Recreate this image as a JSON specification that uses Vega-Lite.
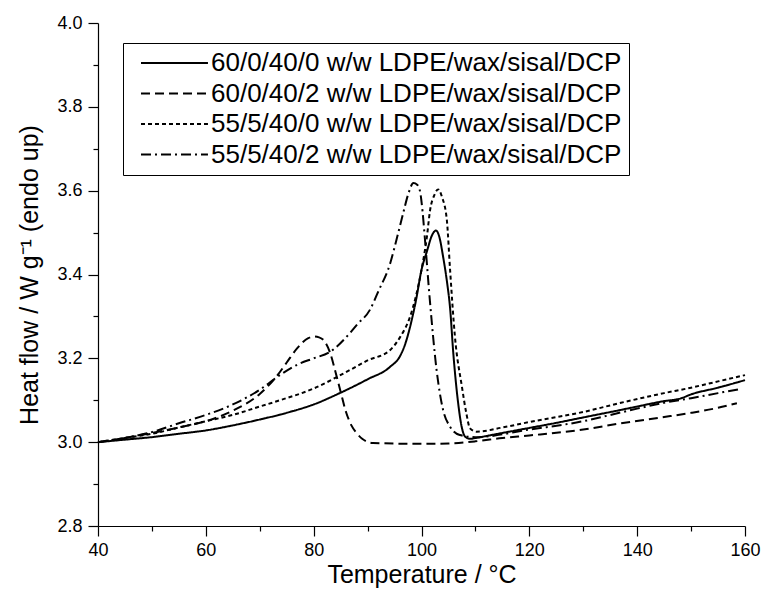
{
  "$schema": "https://vega.github.io/schema/vega-lite/v6.json",
  "width": 647,
  "height": 503,
  "autosize": {"type": "none"},
  "padding": {"left": 98, "top": 23, "right": 18, "bottom": 75},
  "background": "white",
  "config": {
    "view": {"stroke": null},
    "font": "Liberation Sans",
    "axis": {
      "domainColor": "black", "domainWidth": 1.2, "tickColor": "black", "tickWidth": 1.2,
      "labelColor": "black", "titleColor": "black", "labelFont": "Liberation Sans",
      "titleFont": "Liberation Sans", "titleFontWeight": "normal", "labelFontSize": 18,
      "titleFontSize": 25, "grid": false
    }
  },
  "data": {"values": [
    {"s":"A","t":40,"h":3.000},{"s":"A","t":45,"h":3.006},{"s":"A","t":50,"h":3.012},{"s":"A","t":55,"h":3.020},
    {"s":"A","t":60,"h":3.028},{"s":"A","t":65,"h":3.040},{"s":"A","t":70,"h":3.054},{"s":"A","t":75,"h":3.070},
    {"s":"A","t":80,"h":3.090},{"s":"A","t":85,"h":3.118},{"s":"A","t":90,"h":3.150},{"s":"A","t":94.2,"h":3.180},
    {"s":"A","t":96,"h":3.205},{"s":"A","t":97,"h":3.235},{"s":"A","t":97.9,"h":3.276},{"s":"A","t":99,"h":3.340},
    {"s":"A","t":100,"h":3.411},{"s":"A","t":101,"h":3.455},{"s":"A","t":102,"h":3.495},{"s":"A","t":102.7,"h":3.505},
    {"s":"A","t":103.3,"h":3.490},{"s":"A","t":104,"h":3.443},{"s":"A","t":104.7,"h":3.385},{"s":"A","t":105.3,"h":3.320},
    {"s":"A","t":105.9,"h":3.212},{"s":"A","t":106.8,"h":3.093},{"s":"A","t":107.4,"h":3.040},{"s":"A","t":108.1,"h":3.013},
    {"s":"A","t":109,"h":3.008},{"s":"A","t":110,"h":3.010},{"s":"A","t":115,"h":3.022},{"s":"A","t":120,"h":3.034},
    {"s":"A","t":125,"h":3.046},{"s":"A","t":130,"h":3.059},{"s":"A","t":137,"h":3.077},{"s":"A","t":140,"h":3.085},
    {"s":"A","t":145,"h":3.098},{"s":"A","t":148,"h":3.104},{"s":"A","t":150,"h":3.114},{"s":"A","t":155,"h":3.130},
    {"s":"A","t":160,"h":3.148},

    {"s":"B","t":40,"h":3.000},{"s":"B","t":45,"h":3.010},{"s":"B","t":50,"h":3.022},{"s":"B","t":55,"h":3.035},
    {"s":"B","t":60,"h":3.050},{"s":"B","t":65,"h":3.075},{"s":"B","t":70,"h":3.115},{"s":"B","t":73,"h":3.155},
    {"s":"B","t":75,"h":3.190},{"s":"B","t":77,"h":3.225},{"s":"B","t":79,"h":3.248},{"s":"B","t":80,"h":3.252},
    {"s":"B","t":81,"h":3.250},{"s":"B","t":81.8,"h":3.244},{"s":"B","t":83,"h":3.215},{"s":"B","t":84,"h":3.170},
    {"s":"B","t":85,"h":3.120},{"s":"B","t":86,"h":3.072},{"s":"B","t":87,"h":3.040},{"s":"B","t":88,"h":3.021},
    {"s":"B","t":89,"h":3.008},{"s":"B","t":91,"h":2.998},{"s":"B","t":100,"h":2.996},{"s":"B","t":105,"h":2.997},
    {"s":"B","t":110,"h":3.002},{"s":"B","t":115,"h":3.010},{"s":"B","t":120,"h":3.016},{"s":"B","t":130,"h":3.030},
    {"s":"B","t":137,"h":3.045},{"s":"B","t":145,"h":3.060},{"s":"B","t":150,"h":3.070},{"s":"B","t":155,"h":3.082},
    {"s":"B","t":158.5,"h":3.093},

    {"s":"C","t":40,"h":3.000},{"s":"C","t":45,"h":3.010},{"s":"C","t":50,"h":3.020},{"s":"C","t":55,"h":3.035},
    {"s":"C","t":60,"h":3.050},{"s":"C","t":65,"h":3.065},{"s":"C","t":70,"h":3.085},{"s":"C","t":73.75,"h":3.100},
    {"s":"C","t":80,"h":3.128},{"s":"C","t":86.7,"h":3.172},{"s":"C","t":90,"h":3.195},{"s":"C","t":94.2,"h":3.220},
    {"s":"C","t":96,"h":3.250},{"s":"C","t":97.9,"h":3.300},{"s":"C","t":99,"h":3.350},{"s":"C","t":100,"h":3.411},
    {"s":"C","t":101,"h":3.490},{"s":"C","t":101.6,"h":3.554},{"s":"C","t":102.4,"h":3.590},{"s":"C","t":103.1,"h":3.603},
    {"s":"C","t":103.8,"h":3.585},{"s":"C","t":104.7,"h":3.530},{"s":"C","t":105.3,"h":3.411},{"s":"C","t":106.2,"h":3.252},
    {"s":"C","t":107.5,"h":3.132},{"s":"C","t":108.3,"h":3.070},{"s":"C","t":109,"h":3.033},{"s":"C","t":110.2,"h":3.025},
    {"s":"C","t":115,"h":3.035},{"s":"C","t":120,"h":3.048},{"s":"C","t":130,"h":3.072},{"s":"C","t":137,"h":3.094},
    {"s":"C","t":145,"h":3.117},{"s":"C","t":150,"h":3.130},{"s":"C","t":155,"h":3.145},{"s":"C","t":160,"h":3.160},

    {"s":"D","t":40,"h":3.000},{"s":"D","t":45,"h":3.010},{"s":"D","t":50,"h":3.024},{"s":"D","t":55,"h":3.045},
    {"s":"D","t":60,"h":3.065},{"s":"D","t":65,"h":3.090},{"s":"D","t":70,"h":3.125},{"s":"D","t":73.75,"h":3.160},
    {"s":"D","t":77,"h":3.185},{"s":"D","t":80,"h":3.200},{"s":"D","t":83,"h":3.215},{"s":"D","t":86.7,"h":3.260},
    {"s":"D","t":88,"h":3.280},{"s":"D","t":90.4,"h":3.315},{"s":"D","t":92,"h":3.360},{"s":"D","t":94.2,"h":3.427},
    {"s":"D","t":95.5,"h":3.490},{"s":"D","t":96.6,"h":3.546},{"s":"D","t":97.5,"h":3.590},{"s":"D","t":98.5,"h":3.618},
    {"s":"D","t":99.2,"h":3.614},{"s":"D","t":99.7,"h":3.600},{"s":"D","t":100.2,"h":3.550},{"s":"D","t":100.6,"h":3.490},
    {"s":"D","t":101.6,"h":3.331},{"s":"D","t":102.8,"h":3.172},{"s":"D","t":104,"h":3.077},{"s":"D","t":105.3,"h":3.037},
    {"s":"D","t":107.1,"h":3.017},{"s":"D","t":110,"h":3.012},{"s":"D","t":120,"h":3.030},{"s":"D","t":130,"h":3.050},
    {"s":"D","t":137,"h":3.071},{"s":"D","t":140,"h":3.080},{"s":"D","t":145,"h":3.094},{"s":"D","t":150,"h":3.105},
    {"s":"D","t":155,"h":3.117},{"s":"D","t":158.8,"h":3.126}
  ]},
  "mark": {"type": "line", "color": "black", "strokeWidth": 2, "interpolate": "monotone"},
  "encoding": {
    "x": {
      "field": "t", "type": "quantitative",
      "scale": {"domain": [40, 160], "nice": false, "zero": false},
      "axis": {
        "title": "Temperature / °C",
        "values": [40,50,60,70,80,90,100,110,120,130,140,150,160],
        "labelExpr": "datum.value % 20 === 0 ? datum.label : ''",
        "tickSize": {"condition": {"test": "datum.value % 20 === 0", "value": 10}, "value": 5},
        "labelPadding": 5, "titlePadding": 3, "labelFlush": false
      }
    },
    "y": {
      "field": "h", "type": "quantitative",
      "scale": {"domain": [2.8, 4.0], "nice": false, "zero": false},
      "axis": {
        "title": "Heat flow / W g⁻¹ (endo up)",
        "values": [2.8,2.9,3.0,3.1,3.2,3.3,3.4,3.5,3.6,3.7,3.8,3.9,4.0],
        "format": ".1f",
        "labelExpr": "round(datum.value*10) % 2 === 0 ? datum.label : ''",
        "tickSize": {"condition": {"test": "round(datum.value*10) % 2 === 0", "value": 10}, "value": 5},
        "labelPadding": 6, "titlePadding": 14, "labelFlush": false
      }
    },
    "strokeDash": {
      "field": "s", "type": "nominal",
      "scale": {"domain": ["A","B","C","D"], "range": [[1,0],[9,5],[4,3],[10,4,2,4]]},
      "legend": {
        "title": null,
        "orient": "none", "legendX": 25, "legendY": 20,
        "labelExpr": "{'A':'60/0/40/0 w/w LDPE/wax/sisal/DCP','B':'60/0/40/2 w/w LDPE/wax/sisal/DCP','C':'55/5/40/0 w/w LDPE/wax/sisal/DCP','D':'55/5/40/2 w/w LDPE/wax/sisal/DCP'}[datum.value]",
        "labelFontSize": 26, "labelFont": "Liberation Sans", "labelColor": "black", "labelLimit": 600,
        "symbolType": "M-1,0L4.58,0", "symbolSize": 576, "symbolStrokeWidth": 2, "symbolStrokeColor": "black",
        "symbolOffset": 10,
        "strokeColor": "black", "fillColor": "white", "padding": 7, "rowPadding": 4.5, "labelOffset": 45
      }
    }
  }
}
